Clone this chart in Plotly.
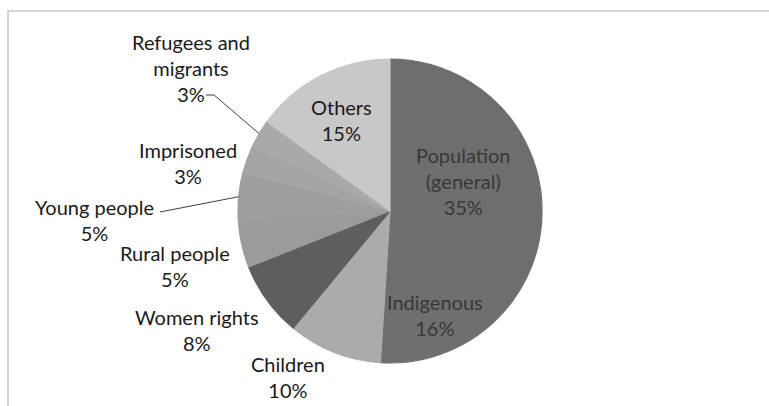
import math
import plotly.graph_objects as go

# ---- data ----
categories = ["Population<br>(general)", "Indigenous", "Children", "Women rights",
              "Rural people", "Young people", "Imprisoned", "Refugees and<br>migrants", "Others"]
values = [35, 16, 10, 8, 5, 5, 3, 3, 15]

# ---- styles ----
colors = ["#6e6e6e", "#6f6f6f", "#ababab", "#5e5e5e", "#9b9b9b",
          "#9e9e9e", "#a4a4a4", "#a9a9a9", "#c8c8c8"]
W, H = 769, 406
CX, CY, R = 390, 211, 152

# label positions in pixels (centre of text block)
label_pos = [(463, 181), (435, 315), (288, 377), (197, 330), (175, 266),
             (94, 220), (188, 163), (191, 68), (341, 120)]
label_col = ["#383838", "#383838", "#1a1a1a", "#1a1a1a", "#1a1a1a",
             "#1a1a1a", "#1a1a1a", "#1a1a1a", "#1a1a1a"]
# leader line start points (pixels) for labels that have one
leaders = {7: [(206, 95), (214, 95)], 5: [(160, 212)]}

def px(x):
    return x / W

def py(y):
    return 1 - y / H

fig = go.Figure(go.Pie(
    labels=categories,
    values=values,
    sort=False,
    direction="clockwise",
    rotation=0,
    textinfo="none",
    hoverinfo="label+percent",
    marker=dict(colors=colors, line=dict(width=1.2, color=colors)),
    domain=dict(x=[px(CX - R), px(CX + R)], y=[py(CY + R), py(CY - R)]),
    showlegend=False,
))

total = sum(values)
annotations = []
shapes = []
cum = 0
for i, (cat, v) in enumerate(zip(categories, values)):
    mid = (cum + v / 2) / total * 2 * math.pi
    cum += v
    lx, ly = label_pos[i]
    annotations.append(dict(
        x=px(lx), y=py(ly), xref="paper", yref="paper",
        text=f"{cat}<br>{v}%", showarrow=False,
        font=dict(family="Lato", size=20, color=label_col[i]),
        align="center", xanchor="center", yanchor="middle",
    ))
    if i in leaders:
        ex = CX + R * math.sin(mid)
        ey = CY - R * math.cos(mid)
        pts = leaders[i] + [(ex, ey)]
        path = "M " + " L ".join(f"{px(a)},{py(b)}" for a, b in pts)
        shapes.append(dict(type="path", path=path, xref="paper", yref="paper",
                           line=dict(color="#404040", width=1)))

# chart frame
shapes.append(dict(type="rect", xref="paper", yref="paper",
                   x0=px(8), x1=px(W + 20), y0=py(H + 20), y1=py(11),
                   line=dict(color="#d4d4d4", width=2), layer="below"))

fig.update_layout(
    width=W, height=H,
    margin=dict(l=0, r=0, t=0, b=0),
    paper_bgcolor="white", plot_bgcolor="white",
    annotations=annotations, shapes=shapes,
)
fig.write_html("out.html")
